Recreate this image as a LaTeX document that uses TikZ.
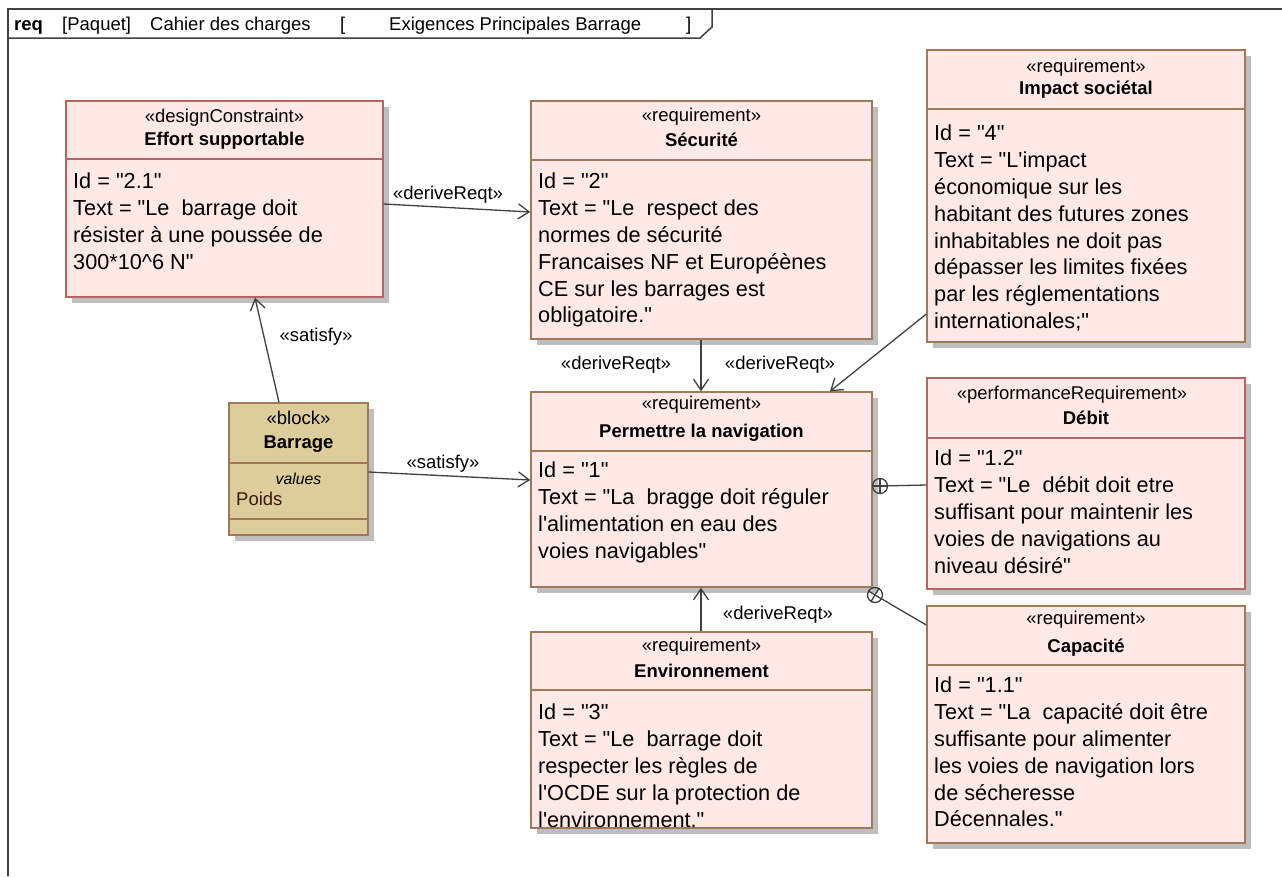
\documentclass[tikz,border=0pt]{standalone}
\usepackage{fontspec}
\setmainfont{Liberation Sans}
\usetikzlibrary{arrows.meta,shadows}
\definecolor{reqfill}{RGB}{255,233,230}
\definecolor{brownbrd}{RGB}{160,120,90}
\definecolor{redbrd}{RGB}{180,100,100}
\definecolor{blockfill}{RGB}{221,204,156}
\definecolor{shadowgray}{RGB}{190,190,190}
\definecolor{linecol}{RGB}{64,64,64}
\definecolor{poidscol}{RGB}{60,25,15}
\newcommand{\apos}{\textquotesingle}
\newcommand{\qq}{\textquotedbl}
\tikzset{
  box/.style={rectangle, draw=#1, line width=1.4pt, fill=reqfill, inner sep=0pt,
    drop shadow={shadow xshift=6pt, shadow yshift=-6pt, fill=shadowgray, opacity=1}},
  brd/.style={draw=#1, line width=1.4pt},
  stereo/.style={font=\fontsize{18.5}{22}\selectfont, anchor=base, inner sep=0pt},
  bname/.style={font=\bfseries\fontsize{18.5}{22}\selectfont, anchor=base, inner sep=0pt},
  body/.style={font=\fontsize{21.7}{26.8}\selectfont, anchor=north west, inner sep=0pt, align=left},
  lbl/.style={font=\fontsize{18.5}{22}\selectfont, anchor=base, inner sep=0pt},
  hdr/.style={font=\fontsize{18.5}{22}\selectfont, anchor=base west, inner sep=0pt},
  dep/.style={draw=linecol, line width=1.3pt, -{Straight Barb[length=11pt,width=15pt]}},
  conn/.style={draw=linecol, line width=1.3pt},
  cont/.style={circle, draw=linecol, line width=1.3pt, minimum size=15pt, inner sep=0pt}
}
\begin{document}
\begin{tikzpicture}[x=1pt,y=-1pt]
\useasboundingbox (0,0) rectangle (1282,876);
\fill[white] (0,0) rectangle (1282,876);
% frame
\draw[linecol, line width=1.5pt] (8,876) -- (8,9) -- (1282,9);
\draw[linecol, line width=1.5pt] (8,38) -- (700,38) -- (712,27) -- (712,9);
\node[hdr, font=\bfseries\fontsize{18.5}{22}\selectfont] (h1) at (14,30) {req};
\node[hdr] (h2) at (62,30) {[Paquet]};
\node[hdr] (h3) at (150,30) {Cahier des charges};
\node[hdr] (h4) at (340,30) {[};
\node[hdr] (h5) at (389,30) {Exigences Principales Barrage};
\node[hdr] (h6) at (686,30) {]};

% Effort supportable
\node[box=redbrd, minimum width=317pt, minimum height=196pt] (effort) at (224.5,199) {};
\draw[brd=redbrd] (effort.west |- 0,159) -- (effort.east |- 0,159);
\node[stereo] (effort-s) at (224.5,122) {«designConstraint»};
\node[bname] (effort-n) at (224.5,145.5) {Effort supportable};
\node[body] (effort-b) at (73,173) {Id = \qq2.1\qq\\Text = \qq Le~ barrage doit\\résister à une poussée de\\300*10\textasciicircum6 N\qq};

% Securite
\node[box=brownbrd, minimum width=341pt, minimum height=238pt] (secu) at (701.5,220) {};
\draw[brd=brownbrd] (secu.west |- 0,160) -- (secu.east |- 0,160);
\node[stereo] (secu-s) at (701.5,121) {«requirement»};
\node[bname] (secu-n) at (701.5,146.5) {Sécurité};
\node[body] (secu-b) at (538,173) {Id = \qq2\qq\\Text = \qq Le~ respect des\\normes de sécurité\\Francaises NF et Européènes\\CE sur les barrages est\\obligatoire.\qq};

% Impact societal
\node[box=brownbrd, minimum width=318pt, minimum height=292pt] (impact) at (1086,196) {};
\draw[brd=brownbrd] (impact.west |- 0,109) -- (impact.east |- 0,109);
\node[stereo] (impact-s) at (1086,72) {«requirement»};
\node[bname] (impact-n) at (1086,94.5) {Impact sociétal};
\node[body] (impact-b) at (934,125) {Id = \qq4\qq\\Text = \qq L\apos impact\\économique sur les\\habitant des futures zones\\inhabitables ne doit pas\\dépasser les limites fixées\\par les réglementations\\internationales;\qq};

% Permettre la navigation
\node[box=brownbrd, minimum width=341pt, minimum height=195pt] (perm) at (701.5,489.5) {};
\draw[brd=brownbrd] (perm.west |- 0,451) -- (perm.east |- 0,451);
\node[stereo] (perm-s) at (701.5,409) {«requirement»};
\node[bname] (perm-n) at (701.5,437.5) {Permettre la navigation};
\node[body] (perm-b) at (538,462) {Id = \qq1\qq\\Text = \qq La~ bragge doit réguler\\l\apos alimentation en eau des\\voies navigables\qq};

% Debit
\node[box=redbrd, minimum width=318pt, minimum height=211pt] (debit) at (1086,483.5) {};
\draw[brd=redbrd] (debit.west |- 0,438) -- (debit.east |- 0,438);
\node[stereo] (debit-s) at (1072,399) {«performanceRequirement»};
\node[bname] (debit-n) at (1086,424.5) {Débit};
\node[body] (debit-b) at (934,450) {Id = \qq1.2\qq\\Text = \qq Le~ débit doit etre\\suffisant pour maintenir les\\voies de navigations au\\niveau désiré\qq};

% Capacite
\node[box=brownbrd, minimum width=318pt, minimum height=237pt] (capa) at (1086,724.5) {};
\draw[brd=brownbrd] (capa.west |- 0,665) -- (capa.east |- 0,665);
\node[stereo] (capa-s) at (1086,624) {«requirement»};
\node[bname] (capa-n) at (1086,652.5) {Capacité};
\node[body] (capa-b) at (934,677) {Id = \qq1.1\qq\\Text = \qq La~ capacité doit être\\suffisante pour alimenter\\les voies de navigation lors\\de sécheresse\\Décennales.\qq};

% Environnement
\node[box=brownbrd, minimum width=341pt, minimum height=196pt] (env) at (701.5,730) {};
\draw[brd=brownbrd] (env.west |- 0,690) -- (env.east |- 0,690);
\node[stereo] (env-s) at (701.5,651) {«requirement»};
\node[bname] (env-n) at (701.5,677.5) {Environnement};
\node[body] (env-b) at (538,704) {Id = \qq3\qq\\Text = \qq Le~ barrage doit\\respecter les règles de\\l\apos OCDE sur la protection de\\l\apos environnement.\qq};

% Barrage block
\node[box=brownbrd, fill=blockfill, minimum width=139pt, minimum height=132pt] (block) at (298.5,469) {};
\draw[brd=brownbrd] (block.west |- 0,463) -- (block.east |- 0,463);
\draw[brd=brownbrd] (block.west |- 0,519) -- (block.east |- 0,519);
\node[stereo] (block-s) at (298.5,424) {«block»};
\node[bname] (block-n) at (298.5,448.5) {Barrage};
\node[stereo, font=\itshape\fontsize{15.8}{19}\selectfont] (block-v) at (298.5,484.5) {values};
\node[stereo, anchor=base west, text=poidscol] (block-p) at (236,505) {Poids};

% connectors
\draw[dep] (effort.east |- 0,204) -- (secu.west |- 0,212);
\node[lbl] (l1) at (448,199) {«deriveReqt»};
\draw[dep] (block.north -| 279,0) -- (effort.south -| 255,0);
\node[lbl] (l2) at (316,341) {«satisfy»};
\draw[dep] (block.east |- 0,472) -- (perm.west |- 0,480);
\node[lbl] (l3) at (443,468) {«satisfy»};
\draw[dep] (secu.south -| 701,0) -- (perm.north -| 701,0);
\node[lbl] (l4) at (616,369) {«deriveReqt»};
\draw[dep] (impact.west |- 0,314) -- (perm.north -| 830,0);
\node[lbl] (l5) at (780,369) {«deriveReqt»};
\draw[dep] (env.north -| 701,0) -- (perm.south -| 701,0);
\node[lbl] (l6) at (778,619) {«deriveReqt»};

% containment
\node[cont] (c1) at (880,486) {};
\draw[conn] (c1.north) -- (c1.south) (c1.east) -- (c1.west);
\draw[conn] (c1) -- (debit.west |- 0,485);
\node[cont, rotate=-31.6] (c2) at (875,595) {};
\draw[conn] (c2.north) -- (c2.south) (c2.east) -- (c2.west);
\draw[conn] (c2) -- (capa.west |- 0,625);
\end{tikzpicture}
\end{document}
